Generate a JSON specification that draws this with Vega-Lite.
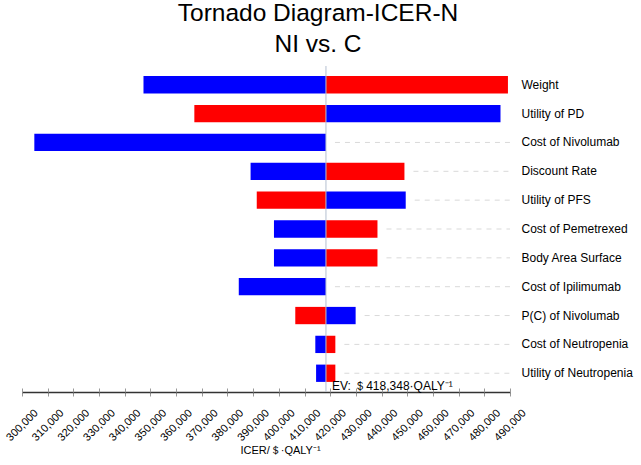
{
  "$schema": "https://vega.github.io/schema/vega-lite/v6.json",
  "autosize": "none",
  "width": 488,
  "height": 326,
  "padding": {"left": 22, "top": 66, "right": 131, "bottom": 73},
  "background": "white",
  "config": {
    "font": "Liberation Sans",
    "view": {"stroke": null},
    "axisX": {"labelOverlap": false}
  },
  "title": {
    "text": ["Tornado Diagram-ICER-N", "NI vs. C"],
    "fontSize": 24.5,
    "fontWeight": "normal",
    "color": "black",
    "anchor": "middle",
    "frame": "group",
    "dx": 52,
    "lineHeight": 31,
    "offset": 8
  },
  "datasets": {
    "tornado": [
      {"param": "Weight", "bound": "Low", "value": 347300},
      {"param": "Weight", "bound": "High", "value": 489200},
      {"param": "Utility of PD", "bound": "Low", "value": 486300},
      {"param": "Utility of PD", "bound": "High", "value": 367100},
      {"param": "Cost of Nivolumab", "bound": "Low", "value": 304800},
      {"param": "Cost of Nivolumab", "bound": "High", "value": 418348},
      {"param": "Discount Rate", "bound": "Low", "value": 389000},
      {"param": "Discount Rate", "bound": "High", "value": 448900},
      {"param": "Utility of PFS", "bound": "Low", "value": 449400},
      {"param": "Utility of PFS", "bound": "High", "value": 391400},
      {"param": "Cost of Pemetrexed", "bound": "Low", "value": 398100},
      {"param": "Cost of Pemetrexed", "bound": "High", "value": 438400},
      {"param": "Body Area Surface", "bound": "Low", "value": 398100},
      {"param": "Body Area Surface", "bound": "High", "value": 438400},
      {"param": "Cost of Ipilimumab", "bound": "Low", "value": 384400},
      {"param": "Cost of Ipilimumab", "bound": "High", "value": 418348},
      {"param": "P(C) of Nivolumab", "bound": "Low", "value": 429900},
      {"param": "P(C) of Nivolumab", "bound": "High", "value": 406400},
      {"param": "Cost of Neutropenia", "bound": "Low", "value": 414200},
      {"param": "Cost of Neutropenia", "bound": "High", "value": 422000},
      {"param": "Utility of Neutropenia", "bound": "Low", "value": 414500},
      {"param": "Utility of Neutropenia", "bound": "High", "value": 422000}
    ],
    "ev": [{"ev": 418348, "param": "Utility of Neutropenia", "label": "EV: ＄418,348·QALY⁻¹"}]
  },
  "data": {"name": "tornado"},
  "resolve": {"axis": {"x": "independent"}},
  "encoding": {
    "y": {
      "field": "param",
      "type": "nominal",
      "sort": ["Weight", "Utility of PD", "Cost of Nivolumab", "Discount Rate", "Utility of PFS", "Cost of Pemetrexed", "Body Area Surface", "Cost of Ipilimumab", "P(C) of Nivolumab", "Cost of Neutropenia", "Utility of Neutropenia"],
      "scale": {"paddingInner": 0.4, "paddingOuter": 0.35},
      "axis": {
        "orient": "right",
        "title": null,
        "domain": false,
        "ticks": false,
        "grid": false,
        "labelAlign": "left",
        "labelPadding": 11,
        "labelFontSize": 12,
        "labelColor": "black",
        "labelFont": "Liberation Sans"
      }
    }
  },
  "layer": [
    {
      "mark": {"type": "bar"},
      "encoding": {
        "x": {
          "field": "value",
          "type": "quantitative",
          "scale": {"domain": [300000, 490000], "nice": false, "zero": false},
          "axis": {
            "orient": "bottom",
            "title": "ICER/＄·QALY⁻¹",
            "titleFontSize": 11,
            "titleFontWeight": "normal",
            "titleColor": "black",
            "titleX": 258,
            "titleY": 58,
            "titleBaseline": "middle",
            "values": [300000, 310000, 320000, 330000, 340000, 350000, 360000, 370000, 380000, 390000, 400000, 410000, 420000, 430000, 440000, 450000, 460000, 470000, 480000, 490000],
            "format": ",d",
            "labelAngle": -45,
            "labelAlign": "center",
            "labelBaseline": "middle",
            "labelFontSize": 11,
            "labelColor": "black",
            "labelPadding": 29,
            "labelDx": -4,
            "grid": false,
            "domainColor": "#333333",
            "domainWidth": 1.5,
            "tickColor": "#999999",
            "tickSize": 4,
            "labelFlush": false,
            "labelOverlap": false
          }
        },
        "x2": {"datum": 418348},
        "color": {
          "field": "bound",
          "type": "nominal",
          "scale": {"domain": ["Low", "High"], "range": ["#0000ff", "#ff0000"]},
          "legend": null
        }
      }
    },
    {
      "transform": [
        {"aggregate": [{"op": "max", "field": "value", "as": "hi"}], "groupby": ["param"]},
        {"filter": "datum.hi < 480000"}
      ],
      "mark": {"type": "rule", "color": "#d9d9d9", "strokeDash": [5, 5], "strokeWidth": 1, "xOffset": 9},
      "encoding": {
        "x": {
          "field": "hi",
          "type": "quantitative",
          "axis": {
            "orient": "bottom",
            "title": null,
            "labels": false,
            "domain": false,
            "grid": false,
            "values": [300000, 310000, 320000, 330000, 340000, 350000, 360000, 370000, 380000, 390000, 400000, 410000, 420000, 430000, 440000, 450000, 460000, 470000, 480000, 490000],
            "tickColor": "#999999",
            "tickSize": -4
          }
        },
        "x2": {"datum": 490000}
      }
    },
    {
      "data": {"name": "ev"},
      "mark": {"type": "rule", "color": "#b4bfd0", "strokeWidth": 1},
      "encoding": {
        "x": {"field": "ev", "type": "quantitative", "axis": null},
        "y": null
      }
    },
    {
      "data": {"name": "ev"},
      "mark": {"type": "text", "align": "left", "baseline": "middle", "dx": 6, "dy": 13, "fontSize": 12, "color": "black"},
      "encoding": {
        "x": {"field": "ev", "type": "quantitative", "axis": null},
        "text": {"field": "label"}
      }
    }
  ]
}
